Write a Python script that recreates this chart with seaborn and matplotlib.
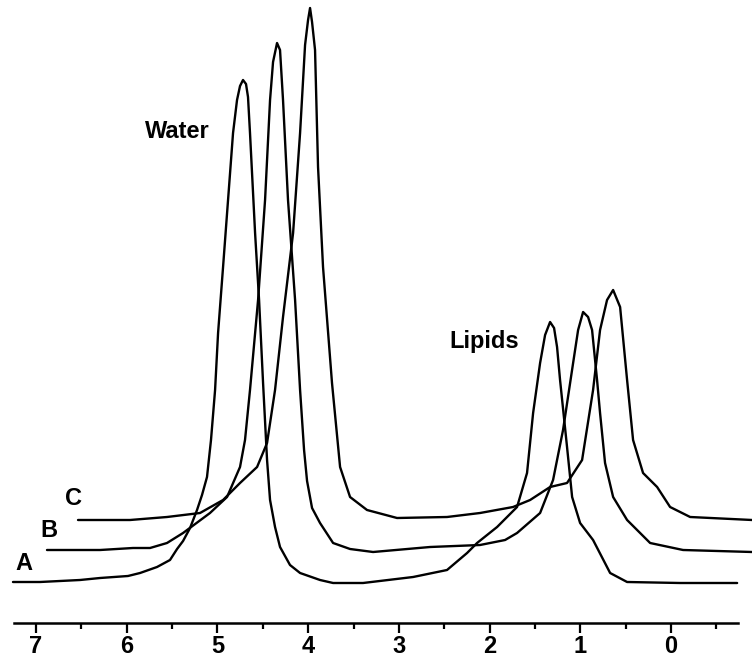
import matplotlib
matplotlib.use("Agg")
import matplotlib.pyplot as plt
from matplotlib.ticker import MultipleLocator
import seaborn as sns
import pandas as pd

# chemical shift (ppm) and intensity (a.u.)
ppm_a = [7.254, 6.956, 6.515, 6.294, 5.986, 5.853, 5.666, 5.523, 5.445, 5.379,
         5.302, 5.225, 5.170, 5.115, 5.071, 5.026, 4.993, 4.938, 4.883, 4.828,
         4.784, 4.751, 4.718, 4.685, 4.663, 4.641, 4.585, 4.541, 4.497, 4.453,
         4.420, 4.365, 4.310, 4.200, 4.089, 3.869, 3.725, 3.395, 2.843, 2.469,
         2.248, 2.138, 1.917, 1.697, 1.587, 1.520, 1.443, 1.388, 1.333, 1.289,
         1.256, 1.223, 1.146, 1.090, 1.002, 0.859, 0.671, 0.484, -0.100, -0.729]
int_a = [41, 41, 43, 45, 47, 50, 56, 63, 74, 82,
         95, 113, 128, 146, 183, 233, 290, 356, 423, 490,
         523, 537, 543, 539, 526, 490, 390, 323, 240, 163,
         123, 96, 76, 58, 50, 43, 40, 40, 46, 53,
         70, 80, 96, 116, 150, 210, 260, 288, 301, 295,
         276, 243, 176, 126, 100, 83, 50, 41, 40, 40]

ppm_b = [6.879, 6.294, 5.931, 5.743, 5.556, 5.379, 5.082, 4.894, 4.751, 4.696,
         4.641, 4.552, 4.475, 4.420, 4.387, 4.343, 4.310, 4.277, 4.222, 4.144,
         4.089, 4.045, 4.012, 3.957, 3.869, 3.725, 3.538, 3.284, 2.656, 2.105,
         1.829, 1.697, 1.443, 1.300, 1.190, 1.079, 1.024, 0.969, 0.914, 0.870,
         0.815, 0.782, 0.727, 0.638, 0.484, 0.230, -0.133, -0.894]
int_b = [73, 73, 75, 75, 80, 90, 110, 126, 156, 183,
         233, 323, 423, 523, 561, 580, 573, 523, 423, 323,
         233, 173, 142, 115, 100, 80, 74, 71, 76, 78,
         83, 90, 110, 143, 193, 260, 293, 311, 306, 293,
         243, 210, 160, 126, 103, 80, 73, 71]

ppm_c = [6.537, 5.964, 5.556, 5.192, 4.938, 4.751, 4.563, 4.453, 4.365, 4.277,
         4.166, 4.089, 4.034, 4.001, 3.979, 3.957, 3.924, 3.891, 3.836, 3.737,
         3.648, 3.538, 3.351, 3.020, 2.469, 2.105, 1.741, 1.553, 1.333, 1.146,
         0.980, 0.859, 0.782, 0.705, 0.638, 0.561, 0.484, 0.418, 0.308, 0.153,
         0.010, -0.211, -0.894]
int_c = [103, 103, 106, 110, 123, 140, 156, 180, 233, 306,
         390, 490, 578, 603, 615, 601, 573, 456, 356, 240,
         156, 126, 113, 105, 106, 110, 116, 123, 136, 140,
         163, 233, 293, 323, 333, 316, 243, 183, 150, 136,
         116, 106, 103]

trace_names = ["A", "B", "C"]
trace_label_pos = [(7.132, 53), (6.862, 86), (6.587, 118)]
peak_labels = ["Water", "Lipids"]
peak_label_pos = [(5.445, 485), (2.061, 275)]
tick_values = [7, 6, 5, 4, 3, 2, 1, 0]

frames = []
for name, xs, ys in zip(trace_names, [ppm_a, ppm_b, ppm_c], [int_a, int_b, int_c]):
    frames.append(pd.DataFrame({"ppm": xs, "intensity": ys, "trace": name}))
df = pd.concat(frames, ignore_index=True)

sns.set_style("white")
plt.rcParams["font.family"] = ["Liberation Sans", "DejaVu Sans"]
plt.rcParams["text.color"] = "black"
plt.rcParams["xtick.color"] = "black"

fig = plt.figure(figsize=(7.52, 6.60), dpi=100)
ax = fig.add_axes([0.0, 37 / 660, 1.0, 623 / 660])

sns.lineplot(data=df, x="ppm", y="intensity", units="trace", estimator=None,
             sort=False, color="black", linewidth=1.7, ax=ax)
for line in ax.lines:
    line.set_solid_joinstyle("round")

ax.set_xlim(7.397, -0.893)
ax.set_ylim(0, 623)

for name, (px, py) in zip(trace_names, trace_label_pos):
    ax.text(px, py, name, ha="center", va="baseline", fontsize=17,
            fontweight="bold", color="black")
for name, (px, py) in zip(peak_labels, peak_label_pos):
    ax.text(px, py, name, ha="center", va="baseline", fontsize=17,
            fontweight="bold", color="black")

# only the x axis, with major/minor ticks pointing down
for side in ["left", "top", "right"]:
    ax.spines[side].set_visible(False)
ax.spines["bottom"].set_linewidth(1.8)
ax.spines["bottom"].set_color("black")
ax.spines["bottom"].set_bounds(7.243, -0.739)

ax.set_xticks(tick_values)
ax.set_xticklabels([str(t) for t in tick_values],
                   fontsize=17, fontweight="bold", color="black")
ax.xaxis.set_minor_locator(MultipleLocator(0.5))
ax.tick_params(axis="x", which="major", direction="out", length=7, width=1.6,
               color="black", pad=1.5, bottom=True)
ax.tick_params(axis="x", which="minor", direction="out", length=4, width=1.6,
               color="black", bottom=True)
ax.set_yticks([])
ax.set_xlabel("")
ax.set_ylabel("")

fig.savefig("out.png", dpi=100)
